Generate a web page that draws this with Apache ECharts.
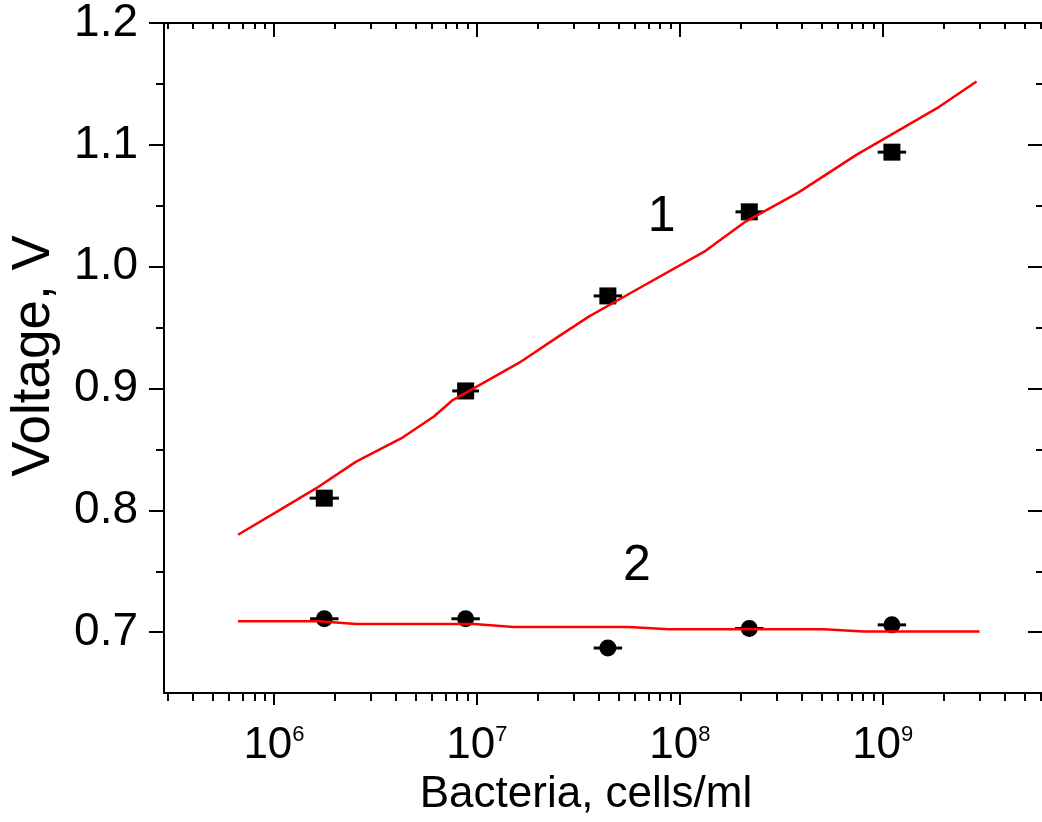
<!DOCTYPE html>
<html>
<head>
<meta charset="utf-8">
<script src="https://cdn.jsdelivr.net/npm/echarts@6/dist/echarts.min.js"></script>
<style>
  html, body { margin: 0; padding: 0; background: #fff; }
  #chart { width: 1042px; height: 822px; }
</style>
</head>
<body>
<div id="chart"></div>
<script>
// Series 1 (squares) and series 2 (circles): bacteria concentration vs voltage
const bacteria1 = [1.77e6, 8.8e6, 4.42e7, 2.2e8, 1.11e9];
const voltage1  = [0.810, 0.898, 0.976, 1.045, 1.094];
const errDec1   = [0.072, 0.066, 0.07, 0.068, 0.07];   // horizontal error, decades

const bacteria2 = [1.77e6, 8.8e6, 4.42e7, 2.2e8, 1.11e9];
const voltage2  = [0.711, 0.711, 0.687, 0.703, 0.706];
const errDec2   = [0.07, 0.07, 0.07, 0.07, 0.07];

// Fitted curves
const fitX1 = [6.65e5, 1.06e6, 1.61e6, 2.54e6, 4.23e6, 6.14e6, 7.53e6, 1.61e7, 2.54e7,
               3.56e7, 5.81e7, 1.34e8, 2.11e8, 3.85e8, 7.45e8, 1.89e9, 2.90e9];
const fitV1 = [0.780, 0.800, 0.818, 0.840, 0.859, 0.877, 0.890, 0.921, 0.943,
               0.959, 0.979, 1.013, 1.037, 1.061, 1.092, 1.131, 1.152];
const fitX2 = [6.65e5, 1.67e6, 2.54e6, 9.66e6, 1.52e7, 5.61e7, 8.83e7, 5.12e8, 8.05e8, 3.0e9];
const fitV2 = [0.709, 0.709, 0.7068, 0.7068, 0.7043, 0.7043, 0.7025, 0.7025, 0.7006, 0.7006];

// Curve labels
const curveLabels = [
  { text: '1', x: 8.15e7, y: 1.041 },
  { text: '2', x: 6.14e7, y: 0.754 }
];

// Axis ticks
const xDecades = [6, 7, 8, 9];
const yTickLabels = [0.7, 0.8, 0.9, 1.0, 1.1, 1.2];
const yMinorTicks = [0.75, 0.85, 0.95, 1.05, 1.15];

const X_MIN = 5.458, X_MAX = 9.785;
const Y_MIN = 0.65, Y_MAX = 1.2;

const lg = v => Math.log10(v);
const xMinor = [];
for (let n = 5; n <= 9; n++) {
  for (let k = 2; k <= 9; k++) {
    const v = lg(k * Math.pow(10, n));
    if (v > X_MIN && v < X_MAX) xMinor.push(v);
  }
}

const SANS = "'Liberation Sans', Arial, Helvetica, sans-serif";
const BLACK = '#000';

function baseX(extra) {
  return Object.assign({
    type: 'value', min: X_MIN, max: X_MAX,
    splitLine: { show: false },
    axisLabel: { show: false },
    axisLine: { show: false },
    axisTick: { show: false }
  }, extra);
}
function baseY(extra) {
  return Object.assign({
    type: 'value', min: Y_MIN, max: Y_MAX,
    splitLine: { show: false },
    axisLabel: { show: false },
    axisLine: { show: false },
    axisTick: { show: false }
  }, extra);
}

const chart = echarts.init(document.getElementById('chart'), null, { renderer: 'canvas' });

const errRender = function (params, api) {
  const x = api.value(0), y = api.value(1), e = api.value(2);
  const p1 = api.coord([x - e, y]);
  const p2 = api.coord([x + e, y]);
  return {
    type: 'line',
    shape: { x1: p1[0], y1: p1[1], x2: p2[0], y2: p2[1] },
    style: { stroke: BLACK, lineWidth: 3 }
  };
};

const option = {
  animation: false,
  backgroundColor: '#fff',
  grid: { left: 164, right: 0, top: 23, bottom: 126, containLabel: false },
  xAxis: [
    baseX({
      position: 'bottom',
      name: 'Bacteria, cells/ml',
      nameLocation: 'middle',
      nameGap: 76,
      nameTextStyle: { fontFamily: SANS, fontSize: 44, color: BLACK, padding: [0, 34, 0, 0] },
      axisLine: { show: true, lineStyle: { color: BLACK, width: 2 } },
      axisTick: { show: true, inside: false, length: 12, lineStyle: { color: BLACK, width: 2 },
                  customValues: xDecades },
      axisLabel: {
        show: true, margin: 31, customValues: xDecades,
        formatter: v => '{b|10}{s|' + Math.round(v) + '}',
        rich: {
          b: { fontFamily: SANS, fontSize: 44, color: BLACK },
          s: { fontFamily: SANS, fontSize: 22, color: BLACK, verticalAlign: 'top', padding: [0, 0, 20, 0] }
        }
      }
    }),
    baseX({
      position: 'bottom',
      axisTick: { show: true, inside: false, length: 8, lineStyle: { color: BLACK, width: 2 },
                  customValues: xMinor }
    }),
    baseX({
      position: 'top',
      axisLine: { show: true, lineStyle: { color: BLACK, width: 2 } },
      axisTick: { show: true, inside: true, length: 14, lineStyle: { color: BLACK, width: 2 },
                  customValues: xDecades }
    }),
    baseX({
      position: 'top',
      axisTick: { show: true, inside: true, length: 6, lineStyle: { color: BLACK, width: 2 },
                  customValues: xMinor }
    })
  ],
  yAxis: [
    baseY({
      position: 'left',
      name: 'Voltage, V',
      nameLocation: 'middle',
      nameGap: 103,
      nameTextStyle: { fontFamily: SANS, fontSize: 53, color: BLACK, padding: [0, 0, 0, 4] },
      axisLine: { show: true, lineStyle: { color: BLACK, width: 2 } },
      axisTick: { show: true, inside: false, length: 15, lineStyle: { color: BLACK, width: 2 },
                  customValues: yTickLabels },
      axisLabel: {
        show: true, margin: 26, customValues: yTickLabels,
        fontFamily: SANS, fontSize: 46, color: BLACK,
        formatter: v => v.toFixed(1)
      }
    }),
    baseY({
      position: 'left',
      axisTick: { show: true, inside: false, length: 8, lineStyle: { color: BLACK, width: 2 },
                  customValues: yMinorTicks }
    }),
    baseY({
      position: 'right',
      axisTick: { show: true, inside: true, length: 14, lineStyle: { color: BLACK, width: 2 },
                  customValues: yTickLabels }
    }),
    baseY({
      position: 'right',
      axisTick: { show: true, inside: true, length: 6, lineStyle: { color: BLACK, width: 2 },
                  customValues: yMinorTicks }
    })
  ],
  series: [
    {
      type: 'custom', renderItem: errRender, z: 3,
      data: bacteria1.map((b, i) => [lg(b), voltage1[i], errDec1[i]])
    },
    {
      type: 'custom', renderItem: errRender, z: 3,
      data: bacteria2.map((b, i) => [lg(b), voltage2[i], errDec2[i]])
    },
    {
      type: 'scatter', symbol: 'rect', symbolSize: [17, 17], z: 4,
      itemStyle: { color: BLACK, opacity: 1 },
      data: bacteria1.map((b, i) => [lg(b), voltage1[i]])
    },
    {
      type: 'scatter', symbol: 'circle', symbolSize: 17, z: 4,
      itemStyle: { color: BLACK, opacity: 1 },
      data: bacteria2.map((b, i) => [lg(b), voltage2[i]])
    },
    {
      type: 'line', showSymbol: false, symbol: 'none', z: 5,
      lineStyle: { color: '#ff0000', width: 2.5, opacity: 1 },
      data: fitX1.map((b, i) => [lg(b), fitV1[i]])
    },
    {
      type: 'line', showSymbol: false, symbol: 'none', z: 5,
      lineStyle: { color: '#ff0000', width: 2.5, opacity: 1 },
      data: fitX2.map((b, i) => [lg(b), fitV2[i]])
    },
    {
      type: 'scatter', symbolSize: 0, z: 6, silent: true,
      itemStyle: { opacity: 1 },
      label: {
        show: true, position: 'inside', fontFamily: SANS, fontSize: 50, color: BLACK,
        opacity: 1, formatter: p => p.data.name
      },
      data: curveLabels.map(c => ({ name: c.text, value: [lg(c.x), c.y] }))
    }
  ]
};

chart.setOption(option);
</script>
</body>
</html>
